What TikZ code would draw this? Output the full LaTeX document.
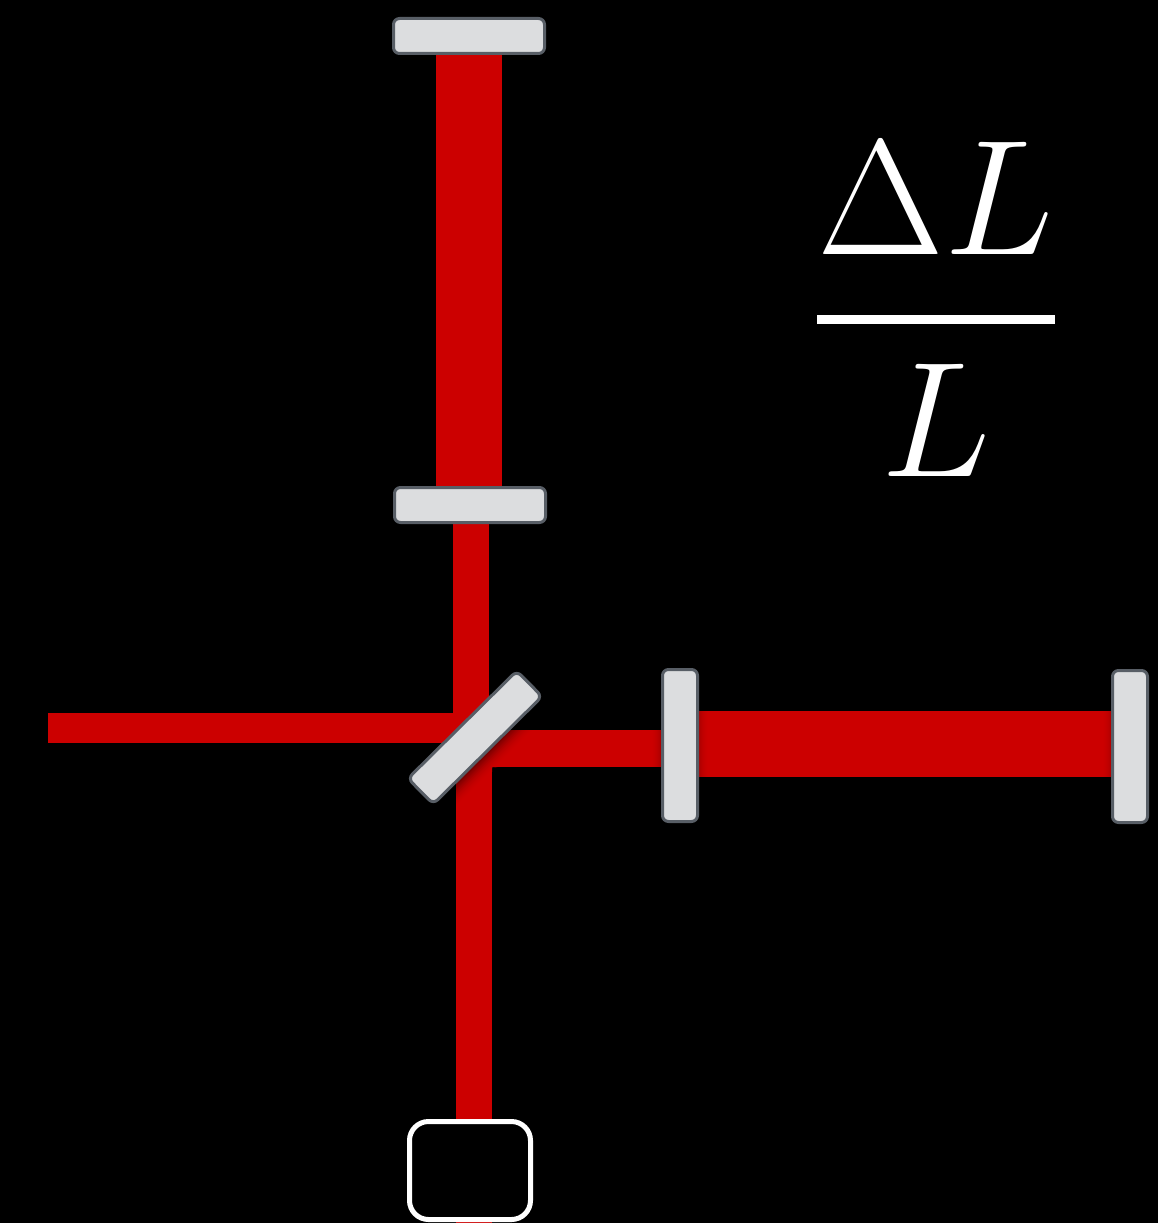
\documentclass[tikz,border=0pt]{standalone}
\usetikzlibrary{calc,backgrounds}
\definecolor{beamred}{HTML}{CC0000}
\definecolor{mirrorfill}{HTML}{DCDDDF}
\definecolor{mirroredge}{HTML}{585E66}
\tikzset{
  beam/.style={draw=beamred,line width=#1,line cap=butt},
  optic/.style={draw=mirroredge,fill=mirrorfill,line width=3pt,rounded corners=6pt,inner sep=0pt,outer sep=0pt},
  hmirror/.style={optic,minimum width=151pt,minimum height=35pt},
  vmirror/.style={optic,minimum width=35pt,minimum height=152pt},
  splitter/.style={optic,minimum width=153pt,minimum height=36pt,rotate=44.7},
  detector/.style={draw=white,fill=black,line width=5pt,rounded corners=19pt,inner sep=0pt,outer sep=0pt,minimum width=121pt,minimum height=98pt},
  formula/.style={text=white,inner sep=0pt,outer sep=0pt,scale=6.6,font=\fontsize{24.88}{30}\selectfont}
}
\begin{document}
\begin{tikzpicture}[x=1pt,y=-1pt]
\useasboundingbox (0,0) rectangle (1158,1223);
% optics
\node[hmirror] (m1) at (469,36) {};
\node[hmirror] (m2) at (470,505) {};
\node[vmirror] (m3) at (680,745.5) {};
\node[vmirror] (m4) at (1130,746.5) {};
\node[splitter] (bs) at (475,737.5) {};
\node[detector] (det) at (470,1170.5) {};
% beam ends
\coordinate (src) at (48,728);
\coordinate (leftend) at (470,728);
\coordinate (a1) at (469,40);
\coordinate (a2) at (469,500);
\coordinate (b1) at (471,510);
\coordinate (b2) at (471,725);
\coordinate (c1) at (480,748.5);
\coordinate (c2) at (670,748.5);
\coordinate (d1) at (680,744);
\coordinate (d2) at (1130,744);
\coordinate (e1) at (474,745);
\coordinate (e2) at (474,1223);
\begin{pgfonlayer}{background}
\fill[black] (0,0) rectangle (1158,1223);
\draw[beam=66pt] (a1) -- (a2);
\draw[beam=36pt] (b1) -- (b2);
\draw[beam=30pt] (src) -- (leftend);
\draw[beam=37pt] (c1) -- (c2);
\draw[beam=66pt] (d1) -- (d2);
\draw[beam=36pt] (e1) -- (e2);
% soft shadows on the beams
\begin{scope}
  \clip (492,730) rectangle (663,767) (456,730) rectangle (492,830);
  \foreach \i in {0,...,17}{
    \pgfmathsetmacro{\rr}{100-48*(1-\i/18)^2}
    \draw[draw=beamred!\rr!black,line width=1.4pt]
      ($(bs)+(\i*0.7071+13.4,\i*0.7071+13.4)+(-100,100)$) -- ($(bs)+(\i*0.7071+13.4,\i*0.7071+13.4)+(100,-100)$);
  }
\end{scope}
\foreach \i in {0,...,11}{
  \pgfmathsetmacro{\rr}{100-22*(1-\i/12)^2}
  \fill[beamred!\rr!black] (697+\i,711) rectangle (698+\i+0.4,777);
  \fill[beamred!\rr!black] (1113-\i-0.4,711) rectangle (1114-\i,777);
  \fill[beamred!\rr!black] (662-\i-0.4,730) rectangle (663-\i,767);
}
\end{pgfonlayer}
% formula
\node[formula] (num) at (935.5,198.5) {$\Delta L$};
\node[formula] (den) at (936,420.5) {$L$};
\fill[white] (817,315) rectangle (1055,324);
\end{tikzpicture}
\end{document}
